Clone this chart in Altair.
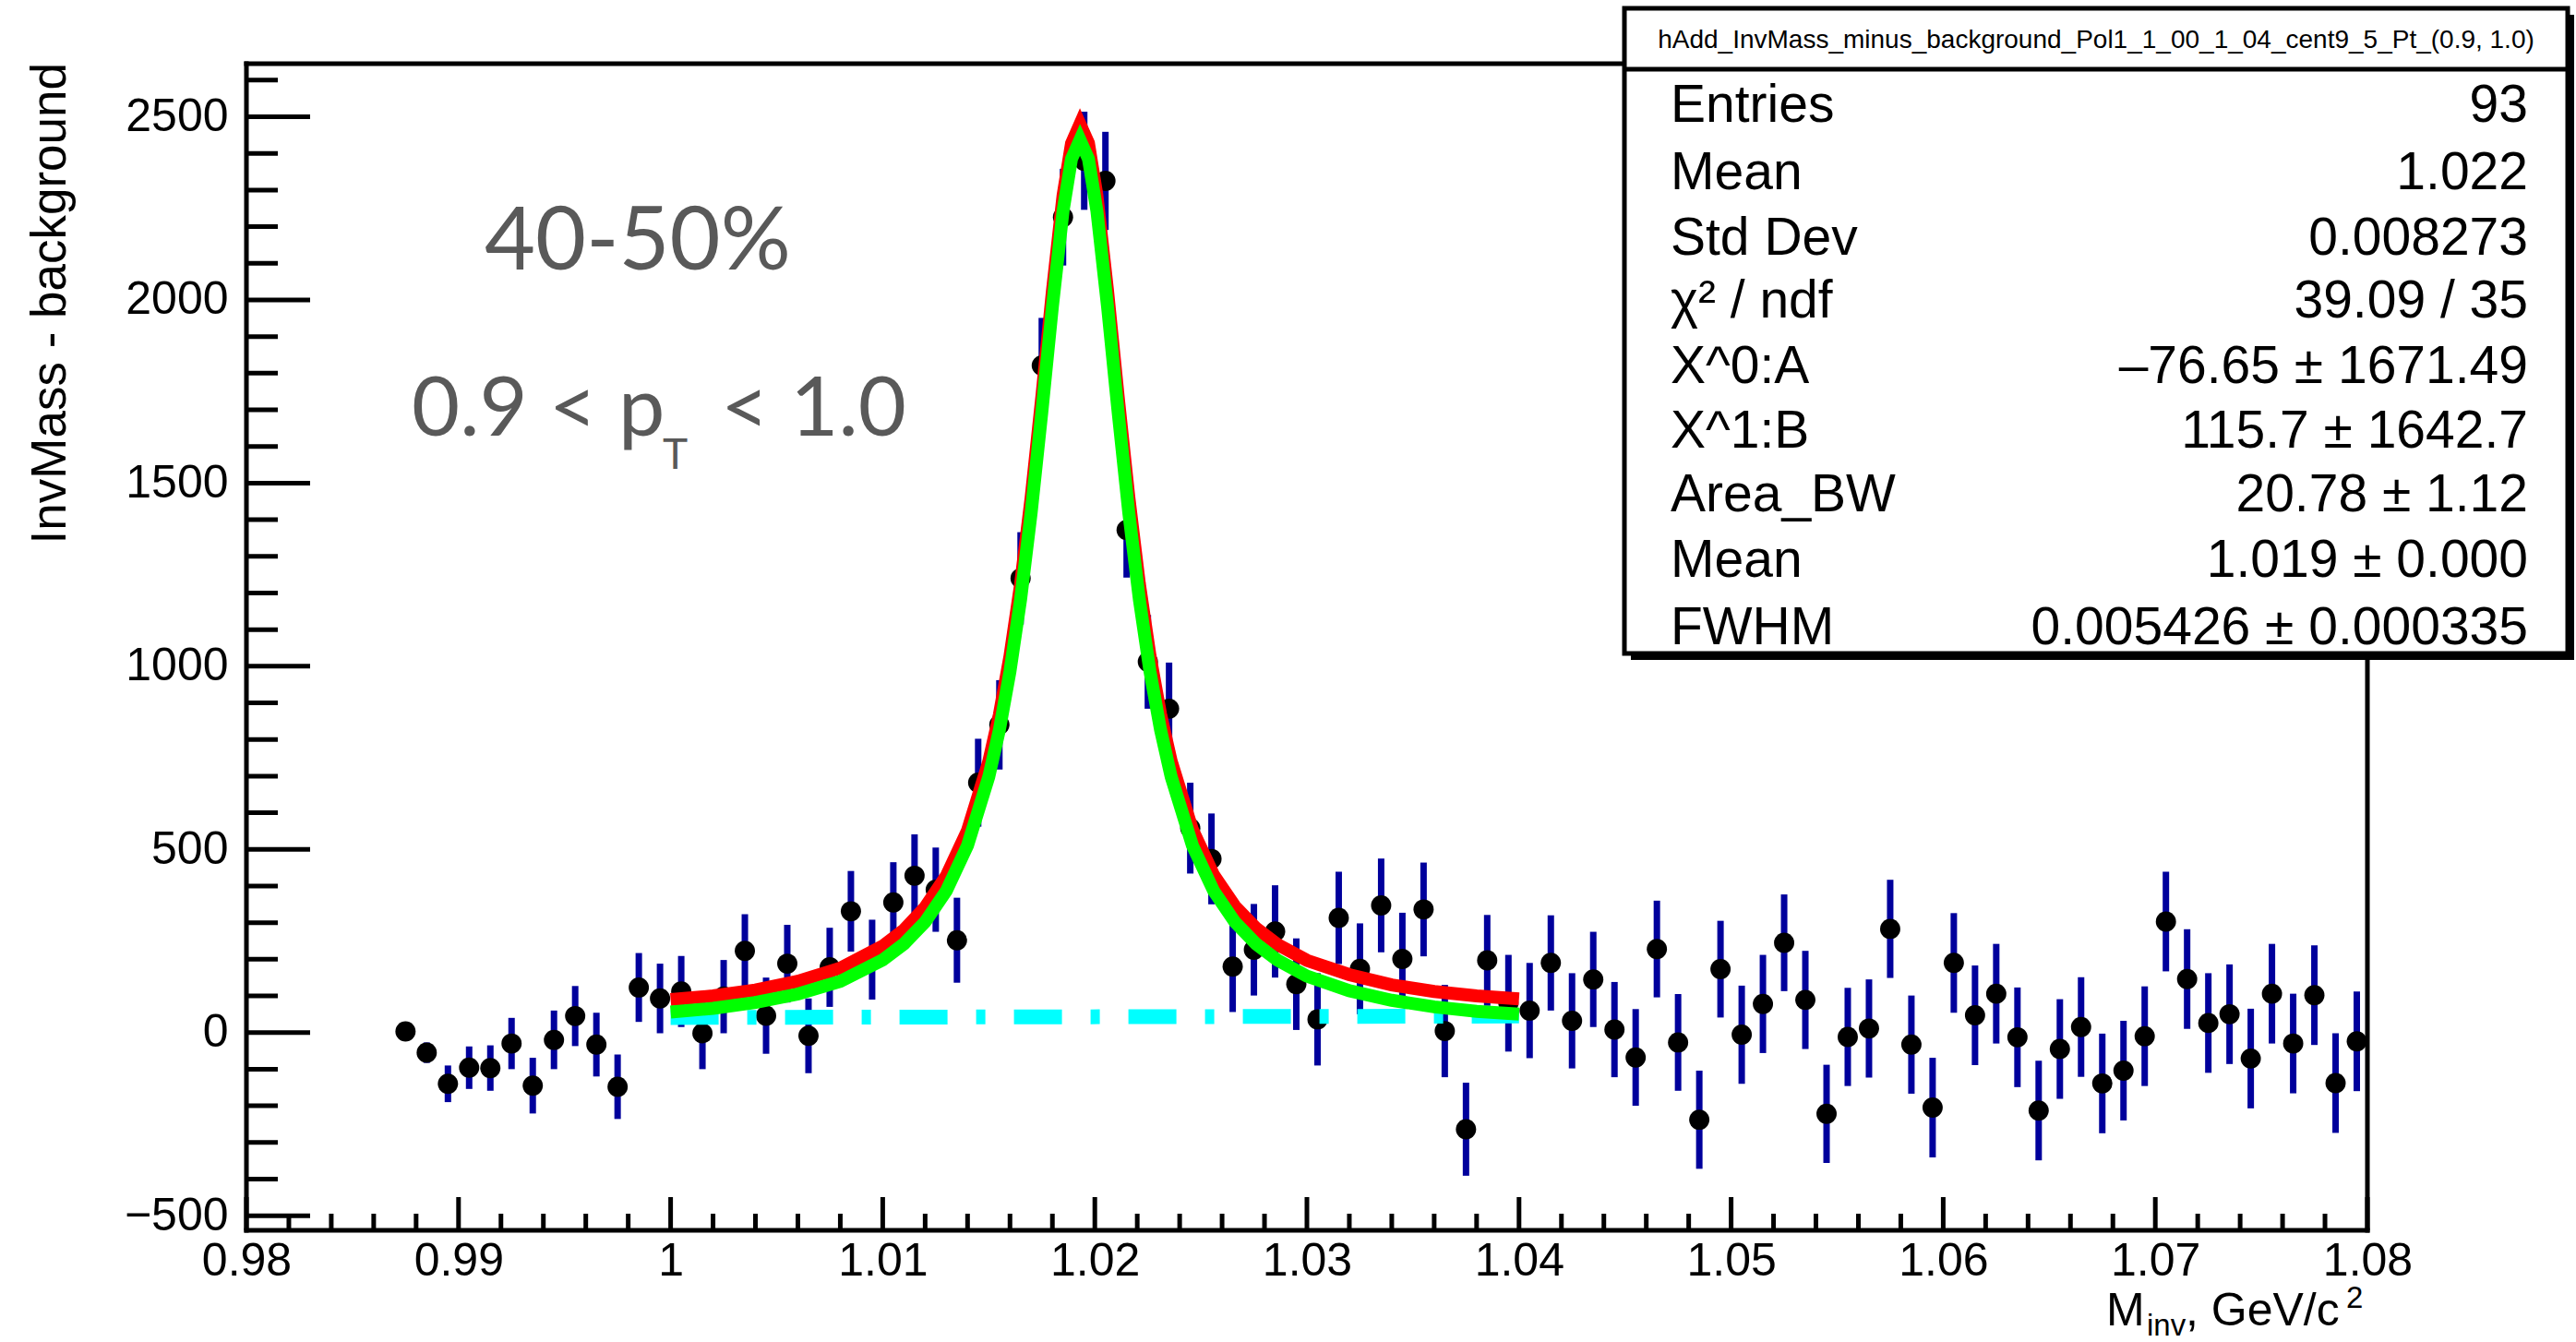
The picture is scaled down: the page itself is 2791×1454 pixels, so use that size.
import altair as alt
import pandas as pd

# ---------------- data ----------------
BIN_FIRST = 0.9875
BIN_WIDTH = 0.001

COUNTS = [3, -55, -140, -96, -97, -30, -145, -20, 45, -33,
          -148, 123, 93, 112, -2, 98, 223, 46, 188, -9,
          178, 331, 199, 355, 428, 390, 252, 682, 840, 1240,
          1821, 2226, 2380, 2325, 1372, 1012, 884, 558, 474, 180,
          226, 276, 132, 36, 313, 174, 347, 201, 336, 4,
          -264, 197, 80, 60, 190, 32, 145, 8, -68, 228,
          -27, -238, 173, -6, 78, 245, 89, -222, -12, 11,
          283, -33, -205, 190, 47, 106, -13, -213, -45, 15,
          -139, -104, -10, 303, 146, 26, 50, -71, 106, -30,
          102, -138, -24]

ERRORS = [20, 28, 50, 58, 62, 70, 76, 80, 82, 87,
          88, 94, 95, 97, 98, 100, 100, 104, 106, 102,
          108, 110, 109, 110, 113, 115, 116, 120, 122, 126,
          130, 132, 134, 134, 130, 128, 126, 124, 124, 124,
          125, 126, 125, 126, 126, 124, 128, 126, 128, 126,
          127, 124, 132, 130, 130, 130, 130, 130, 132, 132,
          132, 134, 132, 134, 134, 132, 134, 134, 134, 134,
          134, 134, 136, 136, 136, 136, 136, 136, 136, 136,
          136, 136, 136, 136, 136, 136, 136, 136, 136, 136,
          136, 136, 136]

# fit curves
CURVE_X = [1.000, 1.002, 1.004, 1.006, 1.008, 1.010, 1.011, 1.012, 1.013, 1.014,
           1.015, 1.0155, 1.016, 1.0165, 1.017, 1.0175, 1.018, 1.0185, 1.0189, 1.0193,
           1.0197, 1.0201, 1.0206, 1.0211, 1.0216, 1.0221, 1.0226, 1.0231, 1.0236, 1.0246,
           1.0256, 1.0266, 1.0276, 1.0286, 1.030, 1.032, 1.034, 1.036, 1.038, 1.040]
GREEN_Y = [56, 66, 82, 105, 140, 198, 242, 302, 387, 511,
           698, 826, 986, 1182, 1420, 1693, 1982, 2242, 2385, 2437,
           2385, 2242, 1982, 1693, 1420, 1182, 986, 826, 698, 511,
           387, 302, 242, 198, 154, 114, 88, 70, 58, 50]
RED_Y = [90, 100, 116, 140, 176, 236, 280, 342, 428, 552,
         740, 868, 1028, 1224, 1462, 1735, 2024, 2284, 2427, 2480,
         2428, 2285, 2025, 1736, 1463, 1225, 1029, 869, 741, 554,
         430, 345, 285, 241, 197, 158, 130, 112, 100, 92]
BKG_X = [1.000, 1.040]
BKG_Y = [41, 45]

X_LABELS = [0.98, 0.99, 1.0, 1.01, 1.02, 1.03, 1.04, 1.05, 1.06, 1.07, 1.08]
Y_LABELS = [-500, 0, 500, 1000, 1500, 2000, 2500]
X_MINOR = [round(0.98 + 0.002 * i, 3) for i in range(51) if i % 5 != 0]
Y_MINOR = [v for v in range(-500, 2700, 100) if v % 500 != 0]

STAT_TITLE = "hAdd_InvMass_minus_background_Pol1_1_00_1_04_cent9_5_Pt_(0.9, 1.0)"
STAT_NAMES = ["Entries", "Mean", "Std Dev", "\u03c7\u00b2 / ndf", "X^0:A", "X^1:B",
              "Area_BW", "Mean", "FWHM"]
STAT_VALUES = ["93", "1.022", "0.008273", "39.09 / 35", "\u201376.65 \u00b1 1671.49",
               "115.7 \u00b1 1642.7", "20.78 \u00b1 1.12", "1.019 \u00b1 0.000",
               "0.005426 \u00b1 0.000335"]

# ---------------- layout ----------------
W, H = 2298, 1264
PAD = {"left": 267, "top": 69, "right": 226, "bottom": 121}
FONT = "Liberation Sans"
ROW_Y = [132, 205, 276, 344, 415, 485, 554, 625, 698]  # baselines (canvas px)

centers = [round(BIN_FIRST + BIN_WIDTH * i, 4) for i in range(len(COUNTS))]
hist = pd.DataFrame({"m": centers, "v": COUNTS, "e": ERRORS})
hist["lo"] = hist["v"] - hist["e"]
hist["hi"] = hist["v"] + hist["e"]
curves = pd.DataFrame({"m": CURVE_X, "red": RED_Y, "green": GREEN_Y})
bkg = pd.DataFrame({"m": BKG_X, "v": BKG_Y})
ONE = pd.DataFrame({"k": [0]})

XS = alt.Scale(domain=[0.98, 1.08], nice=False, zero=False)
YS = alt.Scale(domain=[-540, 2645], nice=False, zero=False)
XAX = alt.Axis(values=X_LABELS,
               labelExpr="datum.value == 1 ? '1' : format(datum.value, '.2f')",
               ticks=False, tickSize=0, domain=False, grid=False,
               labelFontSize=50, labelFont=FONT, labelColor="black",
               labelPadding=8, labelFlush=False, labelOverlap=False, title=None)
YAX = alt.Axis(values=Y_LABELS, format="d", ticks=False, tickSize=0, domain=False,
               grid=False, labelFontSize=50, labelFont=FONT, labelColor="black",
               labelPadding=20, labelOverlap=False, title=None)


def X(f):
    return alt.X(f, type="quantitative", scale=XS, axis=XAX)


def Y(f):
    return alt.Y(f, type="quantitative", scale=YS, axis=YAX)


layers = []

# frame
for enc in [dict(x=alt.value(0), x2=alt.value(W), y=alt.value(0)),
            dict(x=alt.value(0), x2=alt.value(W), y=alt.value(H)),
            dict(x=alt.value(0), y=alt.value(0), y2=alt.value(H)),
            dict(x=alt.value(W), y=alt.value(0), y2=alt.value(H))]:
    layers.append(alt.Chart(ONE).mark_rule(color="black", strokeWidth=5,
                                           strokeCap="square").encode(**enc))

# ticks (inside)
layers.append(alt.Chart(pd.DataFrame({"v": Y_LABELS})).mark_rule(color="black", strokeWidth=5)
              .encode(y=Y("v"), x=alt.value(0), x2=alt.value(69)))
layers.append(alt.Chart(pd.DataFrame({"v": Y_MINOR})).mark_rule(color="black", strokeWidth=5)
              .encode(y=Y("v"), x=alt.value(0), x2=alt.value(34)))
layers.append(alt.Chart(pd.DataFrame({"m": X_LABELS})).mark_rule(color="black", strokeWidth=5)
              .encode(x=X("m"), y=alt.value(H), y2=alt.value(H - 36)))
layers.append(alt.Chart(pd.DataFrame({"m": X_MINOR})).mark_rule(color="black", strokeWidth=5)
              .encode(x=X("m"), y=alt.value(H), y2=alt.value(H - 18)))

# data
layers.append(alt.Chart(hist).mark_rule(color="#00009c", strokeWidth=7, strokeCap="butt")
              .encode(x=X("m"), y=Y("lo"), y2=alt.Y2("hi")))
layers.append(alt.Chart(hist).mark_circle(color="black", size=480, opacity=1)
              .encode(x=X("m"), y=Y("v")))

# fits
layers.append(alt.Chart(bkg).mark_line(color="#00ffff", strokeWidth=16, strokeCap="butt",
                                       strokeDash=[52, 31, 10, 31])
              .encode(x=X("m"), y=Y("v")))
layers.append(alt.Chart(curves).mark_line(color="#ff0000", strokeWidth=14, strokeCap="butt",
                                          strokeJoin="miter")
              .encode(x=X("m"), y=Y("red")))
layers.append(alt.Chart(curves).mark_line(color="#00ff00", strokeWidth=14, strokeCap="butt",
                                          strokeJoin="miter")
              .encode(x=X("m"), y=Y("green")))

# stats box
BX0, BX1, BY0, BY1 = 1760 - 267, 2782 - 267, 9 - 69, 708 - 69
layers.append(alt.Chart(ONE).mark_rect(color="black")
              .encode(x=alt.value(BX0 + 7), x2=alt.value(BX1 + 7),
                      y=alt.value(BY0 + 7), y2=alt.value(BY1 + 7)))
layers.append(alt.Chart(ONE).mark_rect(fill="white", stroke="black", strokeWidth=5)
              .encode(x=alt.value(BX0), x2=alt.value(BX1), y=alt.value(BY0), y2=alt.value(BY1)))
layers.append(alt.Chart(ONE).mark_rule(color="black", strokeWidth=5)
              .encode(x=alt.value(BX0), x2=alt.value(BX1), y=alt.value(75 - 69)))
layers.append(alt.Chart(pd.DataFrame({"t": [STAT_TITLE]}))
              .mark_text(font=FONT, fontSize=28, color="black", align="center",
                         baseline="alphabetic")
              .encode(text="t:N", x=alt.value((BX0 + BX1) / 2), y=alt.value(52 - 69)))
for name, val, by in zip(STAT_NAMES, STAT_VALUES, ROW_Y):
    layers.append(alt.Chart(pd.DataFrame({"t": [name]}))
                  .mark_text(font=FONT, fontSize=57, color="black", align="left",
                             baseline="alphabetic")
                  .encode(text="t:N", x=alt.value(1810 - 267), y=alt.value(by - 69)))
    layers.append(alt.Chart(pd.DataFrame({"t": [val]}))
                  .mark_text(font=FONT, fontSize=57, color="black", align="right",
                             baseline="alphabetic")
                  .encode(text="t:N", x=alt.value(2739 - 267), y=alt.value(by - 69)))

# annotations
GREY = "#595959"


def txt(s, x, y, size, font="Lato", color=GREY, align="left", angle=None, baseline="alphabetic"):
    kw = dict(font=font, fontSize=size, color=color, align=align, baseline=baseline)
    if angle is not None:
        kw["angle"] = angle
    return (alt.Chart(pd.DataFrame({"t": [s]})).mark_text(**kw)
            .encode(text="t:N", x=alt.value(x - 267), y=alt.value(y - 69)))


layers.append(txt("40-50%", 525, 292, 95))
layers.append(txt("0.9 < p", 446, 472, 90))
layers.append(txt("T", 718, 508, 46))
layers.append(txt("< 1.0", 781, 472, 90))

# axis titles
layers.append(txt("InvMass - background", 55, 68, 53, font=FONT, color="black",
                  align="right", angle=270, baseline="middle"))
layers.append(txt("M", 2282, 1436, 50, font=FONT, color="black"))
layers.append(txt("inv", 2326, 1447, 33, font=FONT, color="black"))
layers.append(txt(", GeV/c", 2368, 1436, 50, font=FONT, color="black"))
layers.append(txt("2", 2542, 1417, 33, font=FONT, color="black"))

chart = (alt.layer(*layers)
         .properties(width=W, height=H, padding=PAD,
                     autosize=alt.AutoSizeParams(type="none"))
         .configure(background="white")
         .configure_view(stroke=None))

chart.save("out.html", embed_options={"renderer": "svg", "actions": False})
